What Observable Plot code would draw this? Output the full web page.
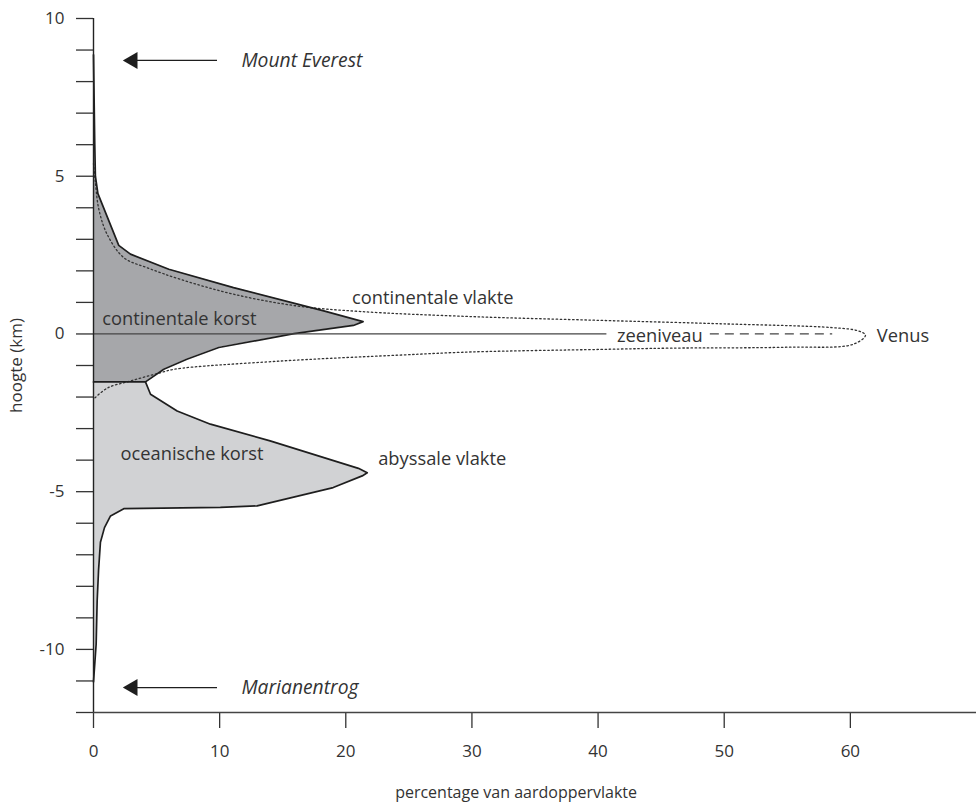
<!DOCTYPE html>
<html><head><meta charset="utf-8">
<script src="https://cdn.jsdelivr.net/npm/d3@7"></script>
<script src="https://cdn.jsdelivr.net/npm/@observablehq/plot@0.6"></script>
<style>body{margin:0;background:#fff} svg{display:block}</style>
</head><body><div id="chart"></div>
<script>
// Continental crust profile (percentage of surface, height km)
const contX = [0, 0.1, 0.15, 0.35, 2.0, 2.93, 5.97, 11.1, 18.25, 21.37, 20.6, 15.9, 9.93, 7.4, 5.57, 4.12];
const contY = [8.85, 6.0, 5.0, 4.45, 2.81, 2.53, 2.05, 1.47, 0.73, 0.39, 0.27, 0.01, -0.43, -0.8, -1.12, -1.52];
// Oceanic crust profile
const oceX = [4.12, 4.52, 6.63, 9.27, 14.0, 21.0, 21.7, 21.3, 19.0, 12.97, 10.06, 2.4, 1.35, 0.87, 0.55, 0.4, 0.29, 0.21, 0];
const oceY = [-1.52, -1.91, -2.44, -2.86, -3.39, -4.26, -4.4, -4.5, -4.87, -5.45, -5.5, -5.54, -5.77, -6.14, -6.6, -7.5, -8.46, -9.83, -11.03];
// Venus hypsometric profile (dotted)
const venusX = [0, 0.15, 0.42, 1.08, 2.4, 4.25, 6.9, 11.1, 16.1, 21.2, 30, 40.2, 50, 58.6, 60.6, 61.2, 60.2, 55, 45.7, 40.2, 30, 24.3, 14.8, 6.37, 5.3, 2.93, 1.08, 0];
const venusY = [5.4, 4.8, 3.96, 3.16, 2.42, 2.1, 1.73, 1.26, 0.89, 0.71, 0.55, 0.43, 0.32, 0.2, 0.1, -0.04, -0.33, -0.42, -0.45, -0.49, -0.57, -0.67, -0.86, -1.12, -1.23, -1.49, -1.72, -2.07];
// Axis ticks
const yTicks = d3.range(-12, 11);
const yTickLabels = [10, 5, 0, -5, -10];
const xTicks = [0, 10, 20, 30, 40, 50, 60];
// Sea level
const seaSolid = [0, 40.7];
const seaDashed = [48.9, 58.6];
// Arrow annotations
const arrowLabels = ["Mount Everest", "Marianentrog"];
const arrowY = [8.67, -11.21];
const arrowHeadX = 3.1;
const arrowLineX = [3.4, 9.83];
const arrowTextX = 11.73;
// Region labels
const labelText = ["continentale korst", "oceanische korst", "continentale vlakte", "abyssale vlakte", "zeeniveau", "Venus"];
const labelX = [0.69, 2.14, 20.5, 22.57, 41.5, 62.1];
const labelY = [0.475, -3.82, 1.14, -3.96, -0.06, -0.06];

const cont = contX.map((x, i) => ({x, y: contY[i]}));
const contOutline = [...cont, {x: 0, y: contY[contY.length - 1]}];
const oce = oceX.map((x, i) => ({x, y: oceY[i]}));
const venus = venusX.map((x, i) => ({x, y: venusY[i]}));
const arrows = arrowLabels.map((t, i) => ({t, y: arrowY[i]}));
const labels = labelText.map((t, i) => ({t, x: labelX[i], y: labelY[i]}));

const ink = "#1e1e1e";
const chart = Plot.plot({
  width: 976, height: 806,
  marginLeft: 93, marginRight: 0, marginTop: 18, marginBottom: 94,
  x: {domain: [0, 70]},
  y: {domain: [-12, 10]},
  style: {fontFamily: "'Open Sans', sans-serif", color: "#333", background: "#fff"},
  marks: [
    Plot.areaX(oce, {x: "x", y: "y", fill: "#d1d2d4"}),
    Plot.areaX(cont, {x: "x", y: "y", fill: "#a6a7aa"}),
    Plot.line(venus, {x: "x", y: "y", stroke: "#333", strokeWidth: 1.3, strokeDasharray: "1.5 2.6", curve: "catmull-rom"}),
    Plot.line(contOutline, {x: "x", y: "y", stroke: ink, strokeWidth: 1.7}),
    Plot.line(oce, {x: "x", y: "y", stroke: ink, strokeWidth: 1.7}),
    Plot.ruleY([0], {x1: seaSolid[0], x2: seaSolid[1], stroke: "#444", strokeWidth: 1.3}),
    Plot.ruleY([0], {x1: seaDashed[0], x2: seaDashed[1], stroke: "#444", strokeWidth: 1.3, strokeDasharray: "9 6"}),
    Plot.axisY(yTicks, {tickSize: 17, tickPadding: 12, fontSize: 17, label: null, stroke: "#333", strokeWidth: 1.3,
      tickFormat: d => yTickLabels.includes(d) ? String(d) : ""}),
    Plot.axisX(xTicks, {tickSize: 16, tickPadding: 16, fontSize: 17, label: null, stroke: "#333", strokeWidth: 1.3,
      tickFormat: d => String(d)}),
    Plot.ruleX([0], {y1: -12, y2: 10, stroke: "#222", strokeWidth: 1.4}),
    Plot.ruleY([-12], {x1: 0, x2: 70, stroke: "#444", strokeWidth: 1.3}),
    Plot.ruleY(arrows, {y: "y", x1: arrowLineX[0], x2: arrowLineX[1], stroke: ink, strokeWidth: 1.3}),
    Plot.dot(arrows, {x: arrowHeadX, y: "y", symbol: "triangle", r: 6.3, fill: ink, rotate: -90}),
    Plot.text(arrows, {x: arrowTextX, y: "y", text: "t", textAnchor: "start", fontSize: 19.3, fontStyle: "italic", fill: "#333"}),
    Plot.text(labels, {x: "x", y: "y", text: "t", textAnchor: "start", fontSize: 18.3, fill: "#333"}),
    Plot.text(["percentage van aardoppervlakte"], {x: 33.5, y: -12, dy: 80, text: d => d, fontSize: 16, fill: "#333"}),
    Plot.text(["hoogte (km)"], {x: 0, y: -1, dx: -77, rotate: -90, text: d => d, fontSize: 17, fill: "#333"})
  ]
});
document.getElementById("chart").appendChild(chart);
</script>
</body></html>
